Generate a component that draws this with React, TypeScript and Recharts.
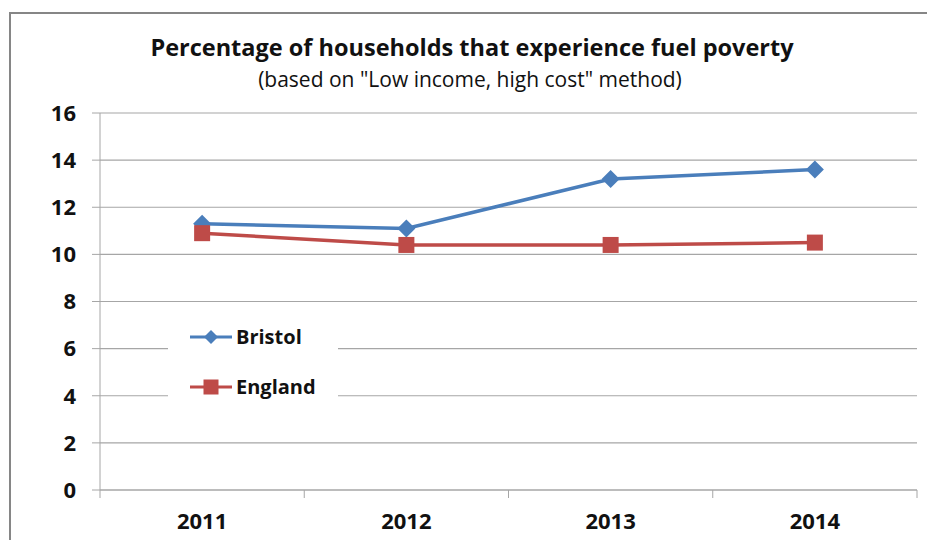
import { LineChart, Line, XAxis, YAxis, CartesianGrid, Legend } from "recharts";

const years = ["2011", "2012", "2013", "2014"];
const bristol = [11.3, 11.1, 13.2, 13.6];
const england = [10.9, 10.4, 10.4, 10.5];
const yTicks = [0, 2, 4, 6, 8, 10, 12, 14, 16];

const BLUE = "#4a7ebb";
const RED = "#be4b48";
const GRID = "#a6a6a6";
const FONT = "'Open Sans', Lato, sans-serif";

const PLOT_LEFT = 100;
const PLOT_RIGHT = 917;
const BAND = (PLOT_RIGHT - PLOT_LEFT) / years.length;

const data = years.map((year, i) => ({
  year,
  Bristol: bristol[i],
  England: england[i],
}));

const Diamond = (props: any) => {
  const { cx, cy, r = 9, fill } = props;
  if (cx == null || cy == null) return null;
  return (
    <path
      d={`M${cx},${cy - r} L${cx + r},${cy} L${cx},${cy + r} L${cx - r},${cy} Z`}
      fill={fill}
    />
  );
};

const Square = (props: any) => {
  const { cx, cy, s = 16, fill } = props;
  if (cx == null || cy == null) return null;
  return <rect x={cx - s / 2} y={cy - s / 2} width={s} height={s} fill={fill} />;
};

const YearTick = (props: any) => {
  const { x, y, payload, index } = props;
  return (
    <g>
      <line x1={x - BAND / 2} y1={y} x2={x - BAND / 2} y2={y + 8} stroke={GRID} />
      {index === years.length - 1 && (
        <line x1={x + BAND / 2} y1={y} x2={x + BAND / 2} y2={y + 8} stroke={GRID} />
      )}
      <text
        x={x}
        y={y + 39}
        textAnchor="middle"
        fill="#111"
        fontSize={22}
        fontWeight={700}
        fontFamily={FONT}
      >
        {payload.value}
      </text>
    </g>
  );
};

const LegendBox = () => (
  <div
    style={{
      background: "#fff",
      width: 170,
      height: 88,
      position: "relative",
      fontFamily: FONT,
      fontWeight: 700,
      fontSize: 20,
      color: "#111",
    }}
  >
    {[
      { name: "Bristol", color: BLUE, shape: "diamond", top: 25 },
      { name: "England", color: RED, shape: "square", top: 75 },
    ].map((item) => (
      <div
        key={item.name}
        style={{ position: "absolute", left: 22, top: item.top - 14, height: 28, display: "flex", alignItems: "center" }}
      >
        <svg width={44} height={28}>
          <line x1={0} y1={14} x2={42} y2={14} stroke={item.color} strokeWidth={3} />
          {item.shape === "diamond" ? (
            <Diamond cx={21} cy={14} r={7} fill={item.color} />
          ) : (
            <Square cx={21} cy={14} s={15} fill={item.color} />
          )}
        </svg>
        <span style={{ marginLeft: 2, lineHeight: "28px" }}>{item.name}</span>
      </div>
    ))}
  </div>
);

export default function App() {
  return (
    <div style={{ position: "absolute", left: 0, top: 0, width: 927, height: 540, overflow: "hidden", background: "#fff" }}>
      <div
        style={{
          position: "absolute",
          left: 9,
          top: 12,
          width: 940,
          height: 560,
          border: "2px solid #868686",
          boxSizing: "border-box",
        }}
      />
      <div
        style={{
          position: "absolute",
          left: 0,
          width: 944,
          top: 32,
          lineHeight: "30px",
          textAlign: "center",
          fontFamily: FONT,
          fontWeight: 700,
          fontSize: 23.5,
          color: "#111",
        }}
      >
        Percentage of households that experience fuel poverty
      </div>
      <div
        style={{
          position: "absolute",
          left: 0,
          width: 940,
          top: 65,
          lineHeight: "28px",
          textAlign: "center",
          fontFamily: FONT,
          fontSize: 21,
          color: "#111",
        }}
      >
        (based on "Low income, high cost" method)
      </div>
      <div style={{ position: "absolute", left: 0, top: 0 }}>
        <LineChart
          width={927}
          height={540}
          data={data}
          margin={{ top: 113, right: 927 - PLOT_RIGHT, bottom: 20, left: 40 }}
        >
          <CartesianGrid vertical={false} stroke={GRID} strokeWidth={1.2} />
          <XAxis
            dataKey="year"
            stroke={GRID}
            tickLine={false}
            tickSize={0}
            tickMargin={0}
            height={30}
            interval={0}
            padding={{ left: BAND / 2, right: BAND / 2 }}
            tick={<YearTick />}
          />
          <YAxis
            domain={[0, 16]}
            ticks={yTicks}
            width={60}
            stroke={GRID}
            tickSize={8}
            tickMargin={16}
            tick={{ fill: "#111", fontSize: 22, fontWeight: 700, fontFamily: FONT }}
          />
          <Legend
            layout="vertical"
            align="center"
            verticalAlign="middle"
            wrapperStyle={{ left: 168, top: 312, width: 170 }}
            content={() => <LegendBox />}
          />
          <Line
            dataKey="Bristol"
            stroke={BLUE}
            strokeWidth={3.5}
            dot={(p: any) => <Diamond key={`b${p.index}`} cx={p.cx} cy={p.cy} r={9} fill={BLUE} />}
            activeDot={false}
            isAnimationActive={false}
          />
          <Line
            dataKey="England"
            stroke={RED}
            strokeWidth={3.5}
            dot={(p: any) => <Square key={`e${p.index}`} cx={p.cx} cy={p.cy} s={16} fill={RED} />}
            activeDot={false}
            isAnimationActive={false}
          />
        </LineChart>
      </div>
    </div>
  );
}
